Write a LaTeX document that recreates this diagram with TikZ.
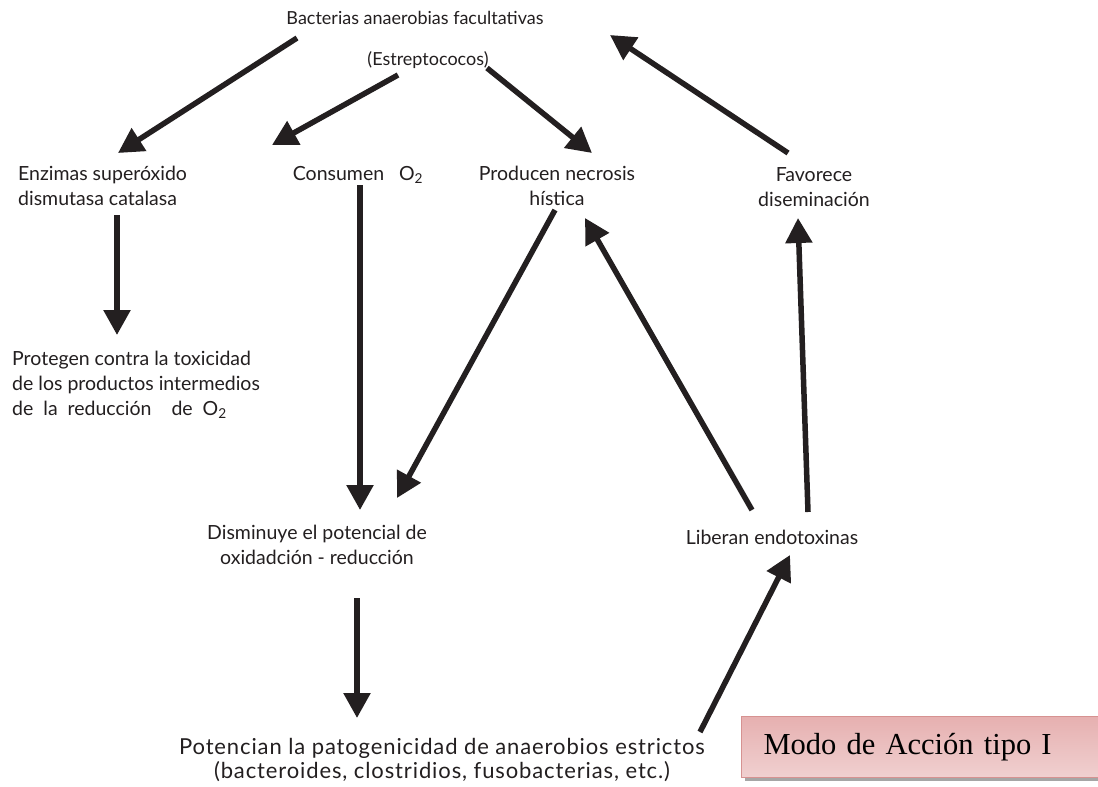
\documentclass[tikz,border=0pt]{standalone}
\usepackage{fontspec}
\setmainfont{Lato}
\newfontfamily\boxfont{Liberation Serif}
\newfontfamily\widefont[LetterSpace=4]{Lato}
\usepackage{tikz}
\usetikzlibrary{calc, arrows.meta, shadows}

\definecolor{ink}{RGB}{35,31,32}
\definecolor{boxtop}{RGB}{230,176,176}
\definecolor{boxmid}{RGB}{250,236,236}
\definecolor{boxbot}{RGB}{240,208,208}
\definecolor{boxline}{RGB}{214,146,145}

\begin{document}
\begin{tikzpicture}[x=1pt,y=-1pt,inner sep=0pt,>={Triangle[length=25pt,width=26pt]},
  txt/.style={font=\fontsize{19.5}{25}\selectfont,text=ink,align=center},
  lft/.style={txt,align=left,anchor=west},
  arr/.style={->,line width=5.5pt,draw=ink},
  modo/.style={draw=boxline,line width=1.2pt,top color=boxtop,middle color=boxmid,bottom color=boxbot,
    drop shadow={fill=black!35,opacity=1,shadow xshift=3pt,shadow yshift=-3pt},
    anchor=north west,inner xsep=22pt,text width=376pt,minimum height=61pt,align=left,
    font=\boxfont\fontsize{30.5}{32}\selectfont}]
\clip (0,0) rectangle (1098,787);
\fill [white] (0,0) rectangle (1098,787);
\node [txt,font=\fontsize{18}{25}\selectfont] (bact) at (415,18) {Bacterias anaerobias facultativas};
\node [txt,font=\fontsize{18}{25}\selectfont] (estr) at (428,60) {(Estreptococos)};
\node [lft] (enz) at (18,186) {Enzimas superóxido\\dismutasa catalasa};
\node [txt] (cons) at (358,175) {Consumen\ \ \ O\textsubscript{2}};
\node [txt] (necr) at (557,186) {Producen necrosis\\hística};
\node [txt] (fav) at (814,187) {Favorece\\diseminación};
\node [lft] (prot) at (12,385) {Protegen contra la toxicidad\\de los productos intermedios\\de\ \ la\ \ reducción\ \ \ \ de\ \ O\textsubscript{2}};
\node [txt] (dism) at (317,545) {Disminuye el potencial de\\oxidadción - reducción};
\node [txt] (libe) at (772,537) {Liberan endotoxinas};
\node [txt,font=\widefont\fontsize{22}{24}\selectfont] (poten) at (442,760) {Potencian la patogenicidad de anaerobios estrictos\\(bacteroides, clostridios, fusobacterias, etc.)};
\node [modo] (tipo) at (741,716) {Modo de Acción tipo I};

% desde las bacterias
\draw [arr] ($(bact)+(-118,20)$) -- ($(enz.west)+(100,-33)$);
\draw [arr] ($(estr)+(-30,15)$) -- ($(cons)+(-86,-30)$);
\draw [arr] ($(estr)+(59,8)$) -- ($(necr)+(35,-33)$);
\draw [arr] ($(fav)+(-26,-34)$) -- ($(bact)+(195,17)$);
% columnas
\draw [arr] ($(enz.west)+(99,29)$) -- ($(prot.west)+(105,-50)$);
\draw [arr] ($(cons)+(2,10)$) -- ($(dism)+(43,-35)$);
\draw [arr] ($(necr)+(-2,24)$) -- ($(dism)+(80,-47)$);
\draw [arr] ($(libe)+(-20,-27)$) -- ($(necr)+(28,32)$);
\draw [arr] ($(libe)+(36,-25)$) -- ($(fav)+(-16,31)$);
\draw [arr] ($(dism)+(40,53)$) -- ($(poten)+(-85,-42)$);
\draw [arr] ($(poten)+(258,-28)$) -- ($(libe)+(18,18)$);
\end{tikzpicture}
\end{document}
